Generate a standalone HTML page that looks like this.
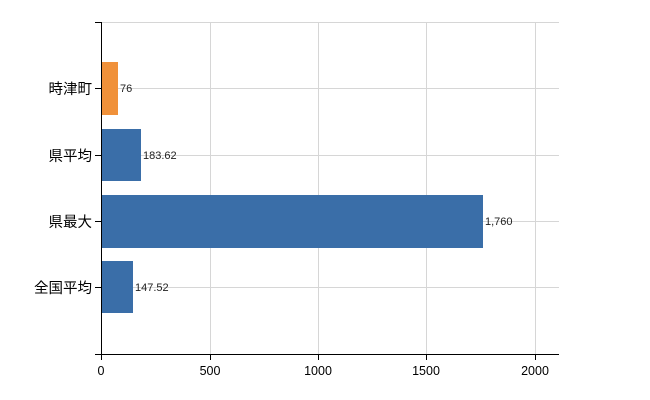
<!DOCTYPE html>
<html><head><meta charset="utf-8"><style>
html,body{margin:0;padding:0;background:#fff;}
svg{display:block;font-family:"Liberation Sans","Noto Sans CJK JP",sans-serif;}
</style></head><body>
<svg width="650" height="400" viewBox="0 0 650 400" xmlns="http://www.w3.org/2000/svg">
<g stroke="#d6d6d6" stroke-width="1">
<line x1="101" y1="22.5" x2="559" y2="22.5"/>
<line x1="210.5" y1="22" x2="210.5" y2="354"/>
<line x1="318.5" y1="22" x2="318.5" y2="354"/>
<line x1="426.5" y1="22" x2="426.5" y2="354"/>
<line x1="535.5" y1="22" x2="535.5" y2="354"/>
<line x1="101" y1="88.5" x2="559" y2="88.5"/>
<line x1="101" y1="155.5" x2="559" y2="155.5"/>
<line x1="101" y1="221.5" x2="559" y2="221.5"/>
<line x1="101" y1="287.5" x2="559" y2="287.5"/>
</g>
<rect x="101" y="62" width="17" height="53" fill="#f0913a"/>
<rect x="101" y="129" width="40" height="52" fill="#3a6ea8"/>
<rect x="101" y="195" width="382" height="53" fill="#3a6ea8"/>
<rect x="101" y="261" width="32" height="52" fill="#3a6ea8"/>
<g font-size="11" fill="#222">
<text x="120" y="92">76</text>
<text x="143" y="159">183.62</text>
<text x="485" y="225">1,760</text>
<text x="135" y="291">147.52</text>
</g>
<g stroke="#000" stroke-width="1">
<line x1="101.5" y1="22" x2="101.5" y2="354"/>
<line x1="95" y1="22.5" x2="101" y2="22.5"/>
<line x1="95" y1="354.5" x2="559" y2="354.5"/>
<line x1="95" y1="88.5" x2="101" y2="88.5"/>
<line x1="95" y1="155.5" x2="101" y2="155.5"/>
<line x1="95" y1="221.5" x2="101" y2="221.5"/>
<line x1="95" y1="287.5" x2="101" y2="287.5"/>
<line x1="101.5" y1="354" x2="101.5" y2="360"/>
<line x1="210.5" y1="354" x2="210.5" y2="360"/>
<line x1="318.5" y1="354" x2="318.5" y2="360"/>
<line x1="426.5" y1="354" x2="426.5" y2="360"/>
<line x1="535.5" y1="354" x2="535.5" y2="360"/>
</g>
<g font-size="14.5" fill="#000" text-anchor="end">
<text x="92" y="94">時津町</text>
<text x="92" y="161">県平均</text>
<text x="92" y="227">県最大</text>
<text x="92" y="293">全国平均</text>
</g>
<g font-size="12.5" fill="#000" text-anchor="middle">
<text x="101" y="375">0</text>
<text x="210" y="375">500</text>
<text x="318" y="375">1000</text>
<text x="426" y="375">1500</text>
<text x="535" y="375">2000</text>
</g>
</svg>
</body></html>
